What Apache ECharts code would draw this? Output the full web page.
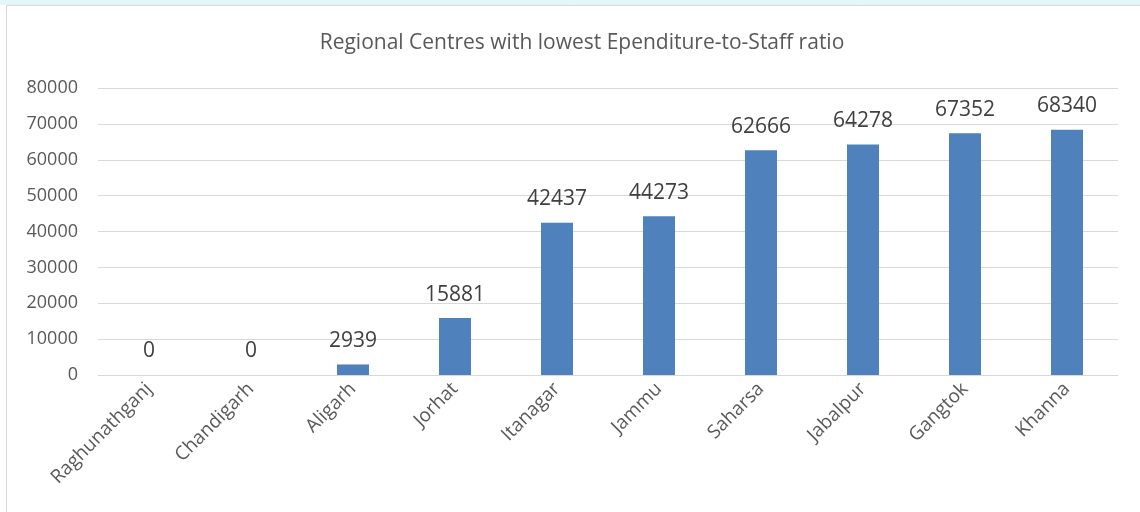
<!DOCTYPE html>
<html>
<head>
<meta charset="utf-8">
<script src="https://cdn.jsdelivr.net/npm/echarts@6/dist/echarts.min.js"></script>
<style>html,body{margin:0;padding:0;background:#fff}#c{width:1140px;height:512px}</style>
</head>
<body>
<div id="c"></div>
<script>
const titleText = 'Regional Centres with lowest Ependiture-to-Staff ratio';
const categories = ['Raghunathganj','Chandigarh','Aligarh','Jorhat','Itanagar','Jammu','Saharsa','Jabalpur','Gangtok','Khanna'];
const values = [0, 0, 2939, 15881, 42437, 44273, 62666, 64278, 67352, 68340];
const yMin = 0, yMax = 80000, yInterval = 10000;

const font = 'Open Sans, "Noto Sans", Lato, sans-serif';
const chart = echarts.init(document.getElementById('c'), null, {renderer:'canvas'});
chart.setOption({
  animation: false,
  backgroundColor: '#fff',
  graphic: [
    {type:'rect', shape:{x:0,y:0,width:1140,height:5}, style:{fill:'#e4f6f9'}, silent:true, z:-1},
    {type:'rect', shape:{x:6.5,y:5.5,width:1140,height:520}, style:{fill:'none', stroke:'#d9d9d9', lineWidth:1}, silent:true, z:-1}
  ],
  title: {
    text: titleText, left: 577, top: 28, textAlign: 'center',
    textStyle: {fontFamily: font, fontSize: 21, fontWeight: 'normal', color: '#595959'}
  },
  grid: {left: 98, right: 22, top: 88, bottom: 137, containLabel: false},
  xAxis: {
    type: 'category', data: categories,
    axisLine: {show: true, lineStyle: {color: '#d9d9d9', width: 1}},
    axisTick: {show: false},
    axisLabel: {rotate: 45, interval: 0, margin: 11, fontFamily: font, fontSize: 19, color: '#595959'}
  },
  yAxis: {
    type: 'value', min: yMin, max: yMax, interval: yInterval,
    axisLine: {show: false}, axisTick: {show: false},
    splitLine: {lineStyle: {color: '#d9d9d9', width: 1}},
    axisLabel: {margin: 20, fontFamily: font, fontSize: 18, color: '#595959', formatter: v => String(v)}
  },
  series: [{
    type: 'bar', data: values, barWidth: 32,
    itemStyle: {color: '#4f81bd', borderWidth: 0},
    label: {show: true, position: 'top', distance: 13, fontFamily: font, fontSize: 21, color: '#404040'}
  }]
});
</script>
</body>
</html>
